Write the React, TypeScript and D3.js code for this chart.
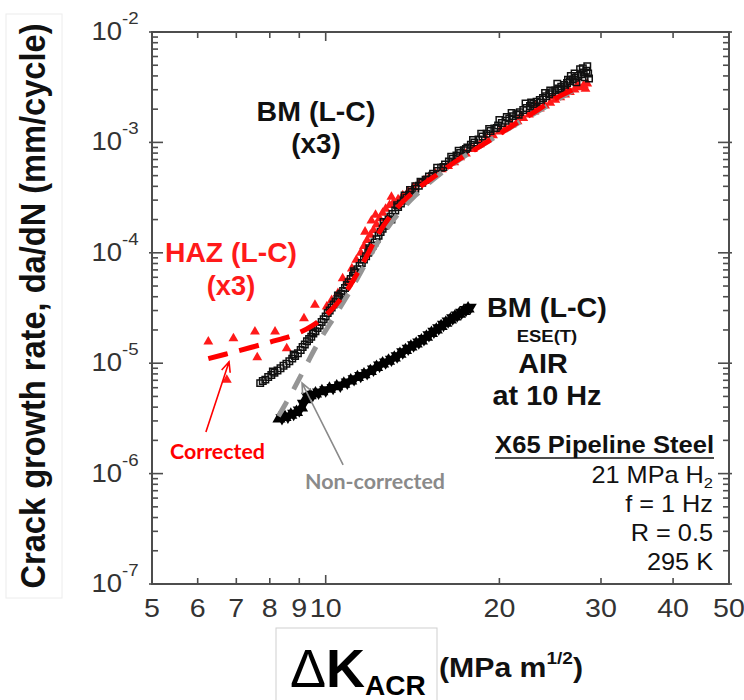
import React from 'react';
import * as d3 from 'd3';

const W = 744;
const H = 700;
const X0 = 152, X1 = 729, Y0 = 32, Y1 = 584;

const xTicks = [5, 6, 7, 8, 9, 10, 20, 30, 40, 50];
const xTickLabels = ['5', '6', '7', '8', '9', '10', '20', '30', '40', '50'];
const yDecades = [-7, -6, -5, -4, -3, -2];

// BM (L-C) in 21 MPa H2 (x3) – open black squares  [ΔK, da/dN]
const bmH2: [number, number][] = [
  [7.70, 6.6e-6], [7.78, 6.9e-6], [7.86, 7.1e-6], [7.95, 7.5e-6], [8.05, 7.8e-6], [8.15, 8.2e-6],
  [8.25, 8.6e-6], [8.35, 9.0e-6], [8.45, 9.5e-6], [8.55, 9.9e-6], [8.65, 1.04e-5], [8.75, 1.10e-5],
  [8.85, 1.16e-5], [8.95, 1.23e-5], [9.05, 1.32e-5], [9.12, 1.40e-5], [9.20, 1.48e-5], [9.28, 1.58e-5],
  [9.36, 1.66e-5], [9.44, 1.74e-5], [9.52, 1.86e-5], [9.60, 1.95e-5], [9.68, 2.08e-5], [9.76, 2.20e-5],
  [9.84, 2.36e-5], [9.92, 2.50e-5], [10.0, 2.65e-5], [10.08, 2.85e-5], [10.16, 3.0e-5], [10.24, 3.2e-5],
  [10.32, 3.4e-5], [10.40, 3.6e-5], [10.48, 3.8e-5], [10.56, 4.0e-5], [10.64, 4.25e-5], [10.72, 4.5e-5],
  [10.80, 4.8e-5], [10.88, 5.1e-5], [10.96, 5.4e-5], [11.05, 5.8e-5], [11.15, 6.2e-5], [11.25, 6.6e-5],
  [11.35, 7.1e-5], [11.45, 7.6e-5], [11.55, 8.1e-5], [11.65, 8.7e-5], [11.75, 9.3e-5], [11.85, 1.0e-4],
  [11.95, 1.07e-4], [12.05, 1.15e-4], [12.15, 1.24e-4], [12.25, 1.33e-4], [12.35, 1.43e-4], [12.45, 1.54e-4],
  [12.55, 1.65e-4], [12.65, 1.76e-4], [12.75, 1.88e-4], [12.85, 2.0e-4], [12.95, 2.12e-4], [13.05, 2.25e-4],
  [13.2, 2.42e-4], [13.35, 2.6e-4], [13.5, 2.8e-4], [13.65, 2.98e-4], [13.8, 3.15e-4], [13.95, 3.35e-4],
  [14.1, 3.55e-4], [14.3, 3.8e-4], [14.5, 4.05e-4], [14.7, 4.3e-4], [14.9, 4.6e-4], [15.1, 4.9e-4],
  [15.35, 5.2e-4], [15.6, 5.5e-4], [15.85, 5.9e-4], [16.1, 6.3e-4], [16.35, 6.7e-4], [16.6, 7.1e-4],
  [16.85, 7.6e-4], [17.1, 8.0e-4], [17.35, 8.5e-4], [17.6, 9.0e-4], [17.85, 9.5e-4], [18.1, 1.0e-3],
  [18.4, 1.06e-3], [18.7, 1.13e-3], [19.0, 1.2e-3], [19.3, 1.27e-3], [19.6, 1.34e-3], [19.9, 1.42e-3],
  [20.2, 1.5e-3], [20.5, 1.57e-3], [20.8, 1.65e-3], [21.1, 1.73e-3], [21.4, 1.8e-3], [21.7, 1.88e-3],
  [22.0, 1.97e-3], [22.3, 2.05e-3], [22.6, 2.14e-3], [22.9, 2.23e-3], [23.2, 2.33e-3], [23.5, 2.42e-3],
  [23.8, 2.52e-3], [24.1, 2.62e-3], [24.4, 2.73e-3], [24.7, 2.85e-3], [25.0, 2.96e-3], [25.3, 3.08e-3],
  [25.6, 3.2e-3], [25.9, 3.32e-3], [26.2, 3.45e-3], [26.5, 3.58e-3], [26.8, 3.72e-3], [27.1, 3.86e-3],
  [27.4, 4.0e-3], [27.7, 4.15e-3], [28.0, 4.3e-3], [28.3, 4.45e-3],
  [20.0, 1.6e-3], [21.0, 1.85e-3], [22.2, 2.25e-3], [23.0, 2.1e-3], [24.0, 2.8e-3], [25.2, 3.4e-3],
  [26.0, 3.1e-3], [26.6, 4.0e-3], [27.2, 3.5e-3], [27.6, 4.6e-3], [28.1, 3.9e-3], [28.4, 4.9e-3],
  [28.6, 3.8e-3], [16.0, 6.0e-4], [17.0, 8.4e-4], [18.0, 1.05e-3], [19.2, 1.32e-3], [15.0, 4.6e-4],
  [14.0, 3.7e-4], [12.6, 1.9e-4], [13.0, 2.0e-4], [11.9, 1.1e-4], [10.5, 4.1e-5], [9.5, 1.9e-5],
  [8.8, 1.2e-5], [8.1, 8.4e-6], [11.2, 6.8e-5], [13.7, 3.3e-4], [14.6, 4.4e-4], [15.6, 5.9e-4],
  [18.6, 1.2e-3], [19.8, 1.35e-3], [20.6, 1.7e-3], [21.6, 1.78e-3], [22.7, 2.3e-3], [23.6, 2.3e-3],
  [24.5, 2.95e-3], [25.5, 3.0e-3], [26.3, 3.7e-3], [27.0, 4.2e-3], [27.9, 4.7e-3], [28.5, 4.2e-3],
  [17.5, 8.7e-4], [16.5, 7.4e-4], [15.3, 5.0e-4], [14.3, 4.0e-4], [13.3, 2.7e-4],
];

// HAZ (L-C) in 21 MPa H2 (x3) – red triangles
const hazH2: [number, number][] = [
  [6.26, 1.57e-5], [6.74, 7.05e-6], [6.92, 1.68e-5], [7.54, 1.93e-5], [7.61, 1.13e-5], [8.17, 1.93e-5],
  [8.56, 1.36e-5], [9.17, 2.55e-5], [9.58, 3.37e-5], [10.04, 3.25e-5], [10.24, 3.73e-5], [10.5, 4.3e-5],
  [10.7, 5.87e-5], [10.9, 5.5e-5], [11.1, 7.2e-5], [11.3, 8.6e-5], [11.5, 1.0e-4], [11.65, 1.15e-4],
  [11.8, 1.3e-4], [11.95, 1.45e-4], [12.1, 1.6e-4], [12.25, 1.8e-4], [12.4, 2.05e-4], [12.55, 2.3e-4],
  [12.7, 2.5e-4], [12.9, 2.7e-4], [13.1, 2.85e-4], [13.35, 3.05e-4], [13.6, 3.3e-4], [13.9, 3.6e-4],
  [14.2, 3.9e-4], [14.5, 4.2e-4], [14.8, 4.5e-4], [15.1, 4.8e-4], [15.5, 5.2e-4], [15.9, 5.7e-4],
  [16.3, 6.1e-4], [16.7, 6.6e-4], [17.1, 7.3e-4], [17.5, 7.9e-4], [18.0, 8.7e-4], [18.5, 9.6e-4],
  [19.0, 1.07e-3], [19.5, 1.16e-3], [20.0, 1.25e-3], [20.5, 1.35e-3], [21.0, 1.45e-3], [21.5, 1.55e-3],
  [22.0, 1.66e-3], [22.5, 1.78e-3], [23.0, 1.9e-3], [23.5, 2.02e-3], [24.0, 2.15e-3], [24.5, 2.28e-3],
  [25.0, 2.42e-3], [25.5, 2.56e-3], [26.0, 2.7e-3], [26.5, 2.85e-3], [27.0, 3.0e-3], [27.5, 3.15e-3],
  [28.0, 3.3e-3], [28.4, 3.4e-3],
  [12.2, 2.2e-4], [12.0, 1.95e-4], [11.7, 1.55e-4], [13.0, 3.2e-4], [24.8, 2.6e-3], [26.3, 3.0e-3],
  [27.3, 3.3e-3], [28.2, 3.05e-3], [23.2, 2.2e-3], [21.8, 1.75e-3],
];

// BM (L-C) ESE(T) in air at 10 Hz – filled black markers
const bmAir: [number, number][] = [
  [8.3, 3.15e-6], [8.4, 3.2e-6], [8.5, 3.25e-6], [8.6, 3.3e-6], [8.7, 3.4e-6], [8.8, 3.5e-6],
  [8.9, 3.6e-6], [9.0, 3.75e-6], [9.08, 3.95e-6], [9.15, 4.3e-6], [9.22, 4.7e-6], [9.3, 5.0e-6],
  [9.4, 5.1e-6], [9.5, 5.2e-6], [9.6, 5.3e-6], [9.72, 5.45e-6], [9.85, 5.55e-6], [10.0, 5.7e-6],
  [10.15, 5.85e-6], [10.3, 6.0e-6], [10.45, 6.15e-6], [10.6, 6.3e-6], [10.75, 6.5e-6], [10.9, 6.7e-6],
  [11.05, 6.95e-6], [11.2, 7.2e-6], [11.35, 7.45e-6], [11.5, 7.7e-6], [11.65, 7.9e-6], [11.8, 8.15e-6],
  [11.95, 8.45e-6], [12.1, 8.8e-6], [12.25, 9.2e-6], [12.4, 9.55e-6], [12.55, 9.9e-6], [12.7, 1.02e-5],
  [12.85, 1.05e-5], [13.0, 1.08e-5], [13.15, 1.12e-5], [13.3, 1.16e-5], [13.45, 1.21e-5], [13.6, 1.26e-5],
  [13.75, 1.31e-5], [13.9, 1.36e-5], [14.05, 1.41e-5], [14.2, 1.46e-5], [14.35, 1.5e-5], [14.5, 1.55e-5],
  [14.65, 1.6e-5], [14.8, 1.66e-5], [14.95, 1.73e-5], [15.1, 1.8e-5], [15.25, 1.87e-5], [15.4, 1.94e-5],
  [15.55, 2.01e-5], [15.7, 2.08e-5], [15.85, 2.16e-5], [16.0, 2.24e-5], [16.15, 2.32e-5], [16.3, 2.4e-5],
  [16.45, 2.48e-5], [16.6, 2.56e-5], [16.75, 2.64e-5], [16.9, 2.72e-5], [17.05, 2.8e-5], [17.2, 2.88e-5],
  [17.35, 2.96e-5], [17.5, 3.05e-5], [17.65, 3.12e-5], [17.8, 3.2e-5],
];

// Fit lines
const fitCorrected: [number, number][] = [
  [6.26, 1.1e-5], [7.0, 1.28e-5], [8.0, 1.55e-5], [8.8, 1.8e-5], [9.5, 2.2e-5], [10.2, 3.0e-5],
  [10.8, 4.3e-5], [11.3, 6.3e-5], [11.8, 9.5e-5], [12.3, 1.45e-4], [12.9, 2.1e-4], [13.6, 2.9e-4],
  [14.5, 3.9e-4], [15.6, 5.1e-4], [17.0, 7.0e-4], [19.0, 1.0e-3], [21.0, 1.4e-3], [23.0, 1.88e-3],
  [25.0, 2.5e-3], [27.0, 3.05e-3],
];
const fitNonCorrected: [number, number][] = [
  [8.28, 3.3e-6], [8.7, 5.2e-6], [9.1, 8.1e-6], [9.7, 1.52e-5], [10.45, 2.85e-5], [11.2, 5.2e-5],
  [11.9, 9.2e-5], [12.6, 1.5e-4], [13.4, 2.3e-4], [14.3, 3.3e-4], [15.5, 4.8e-4], [17.0, 6.9e-4],
  [19.0, 1.0e-3], [21.0, 1.38e-3], [23.5, 1.95e-3], [26.8, 2.95e-3],
];

// Annotation arrows (tail, tip) in data coordinates
const correctedArrow: [number, number][] = [[6.2, 2.38e-6], [6.8, 1.03e-5]];
const nonCorrectedArrow: [number, number][] = [[10.72, 1.2e-6], [9.1, 6.6e-6]];

const ARIAL = "'Liberation Sans', Arial, Helvetica, sans-serif";
const CAL = "Lato, 'Open Sans', sans-serif";
const SX = 1.1;

function arrow(x1: number, y1: number, x2: number, y2: number, len = 11, ang = 0.42) {
  const a = Math.atan2(y2 - y1, x2 - x1);
  const h1x = x2 - len * Math.cos(a - ang), h1y = y2 - len * Math.sin(a - ang);
  const h2x = x2 - len * Math.cos(a + ang), h2y = y2 - len * Math.sin(a + ang);
  return `M${x1},${y1}L${x2},${y2}M${h1x},${h1y}L${x2},${y2}L${h2x},${h2y}`;
}

function ST(props: any) {
  const { x, y, sx = SX, anchor = 'middle', children, ...rest } = props;
  return (
    <g transform={`translate(${x},${y}) scale(${sx},1)`}>
      <text x={0} y={0} textAnchor={anchor} {...rest}>{children}</text>
    </g>
  );
}

export default function App() {
  const x = d3.scaleLog().domain([5, 50]).range([X0, X1]);
  const y = d3.scaleLog().domain([1e-7, 1e-2]).range([Y1, Y0]);
  const line = d3.line<[number, number]>()
    .x(d => x(d[0]))
    .y(d => y(d[1]))
    .curve(d3.curveCatmullRom.alpha(0.5));
  const sq = d3.symbol().type(d3.symbolSquare).size(42)() as string;
  const tri = d3.symbol().type(d3.symbolTriangle).size(42)() as string;
  const triAir = d3.symbol().type(d3.symbolTriangle).size(75)() as string;

  const yTicks: { v: number; major: boolean }[] = [];
  for (const d of yDecades) {
    for (let m = 1; m <= 9; m++) {
      if (d === -2 && m > 1) break;
      yTicks.push({ v: m * Math.pow(10, d), major: m === 1 });
    }
  }

  const axisColor = '#4d4d4d';
  const ca = correctedArrow.map(p => [x(p[0]), y(p[1])]);
  const na = nonCorrectedArrow.map(p => [x(p[0]), y(p[1])]);

  return (
    <svg width={W} height={H} viewBox={`0 0 ${W} ${H}`}
      style={{ position: 'absolute', left: 0, top: 0, background: '#fff' }}
      fontFamily={ARIAL}>
      <rect x={0} y={0} width={W} height={H} fill="#fff" />

      {/* faint box around y title */}
      <rect x={6} y={14} width={56} height={584} fill="none" stroke="#ececec" strokeWidth={1} />

      {/* data: HAZ triangles */}
      <g fill="#ff1a1a">
        {hazH2.map((d, i) => (
          <path key={i} d={tri} transform={`translate(${x(d[0])},${y(d[1])})`} />
        ))}
      </g>
      {/* data: BM H2 open squares */}
      <g fill="none" stroke="#111" strokeWidth={1.5}>
        {bmH2.map((d, i) => (
          <path key={i} d={sq} transform={`translate(${x(d[0])},${y(d[1])})`} />
        ))}
      </g>
      {/* data: BM air filled */}
      <g fill="#000">
        {bmAir.map((d, i) => (
          <path key={i} d={triAir} transform={`translate(${x(d[0])},${y(d[1])}) rotate(${i % 2 ? 180 : 0})`} />
        ))}
      </g>

      {/* fit lines */}
      <path d={line(fitNonCorrected) as string} fill="none" stroke="#959595" strokeWidth={5} strokeDasharray="17 14" />
      <path d={line(fitCorrected) as string} fill="none" stroke="#ff0000" strokeWidth={5} strokeDasharray="20 12" />

      {/* frame */}
      <rect x={X0} y={Y0} width={X1 - X0} height={Y1 - Y0} fill="none" stroke={axisColor} strokeWidth={2} />

      {/* ticks */}
      <g stroke={axisColor} strokeWidth={1.6}>
        {yTicks.map((t, i) => {
          const yy = y(t.v);
          const inL = t.major ? 11 : 6;
          return (
            <g key={i}>
              <line x1={X0 - (t.major ? 3 : 0)} x2={X0 + inL} y1={yy} y2={yy} />
              <line x1={X1 + (t.major ? 3 : 0)} x2={X1 - inL} y1={yy} y2={yy} />
            </g>
          );
        })}
        {xTicks.map((t, i) => {
          const xx = x(t);
          const len = t === 10 ? 9 : 6;
          return (
            <g key={'x' + i}>
              <line x1={xx} x2={xx} y1={Y1} y2={Y1 - len} />
              <line x1={xx} x2={xx} y1={Y0} y2={Y0 + len} />
            </g>
          );
        })}
      </g>

      {/* x tick labels */}
      <g fill="#333" fontSize={26}>
        {xTicks.map((t, i) => (
          <ST key={i} x={x(t)} y={617}>{xTickLabels[i]}</ST>
        ))}
      </g>
      {/* y tick labels */}
      <g fill="#333">
        {yDecades.map((d, i) => (
          <g key={i} transform={`translate(122,${y(Math.pow(10, d))}) scale(${SX},1)`}>
            <text x={0} y={8} textAnchor="end" fontSize={25}>10</text>
            <text x={0} y={-8} fontSize={17}>{`-${-d}`}</text>
          </g>
        ))}
      </g>

      {/* y title */}
      <text transform={`translate(45,306) scale(${SX},1) rotate(-90)`} textAnchor="middle"
        fontSize={32} fontWeight="bold" fill="#111" textLength={565} lengthAdjust="spacingAndGlyphs">
        Crack growth rate, da/dN (mm/cycle)
      </text>

      {/* x title */}
      <rect x={276} y={628} width={161} height={74} fill="#fff" stroke="#cfcfcf" strokeWidth={1} />
      <text x={290} y={687} fontSize={54} fill="#000">
        <tspan>Δ</tspan>
        <tspan fontWeight="bold">K</tspan>
        <tspan fontWeight="bold" fontSize={28} dy={8}>ACR</tspan>
      </text>
      <g transform={`translate(439,677) scale(1.12,1)`}>
        <text x={0} y={0} fontSize={27} fontWeight="bold" fill="#111">
          <tspan>(MPa m</tspan>
          <tspan fontSize={17} dy={-13}>1/2</tspan>
          <tspan dy={13}>)</tspan>
        </text>
      </g>

      {/* annotations */}
      <g fontWeight="bold" fill="#111">
        <ST x={316} y={121} fontSize={27} textLength={108} lengthAdjust="spacingAndGlyphs">BM (L-C)</ST>
        <ST x={316} y={153} fontSize={27} textLength={45} lengthAdjust="spacingAndGlyphs">(x3)</ST>
      </g>
      <g fontWeight="bold" fill="#ff1a1a">
        <ST x={231} y={262} fontSize={28} textLength={120} lengthAdjust="spacingAndGlyphs">HAZ (L-C)</ST>
        <ST x={231} y={295} fontSize={28} textLength={44} lengthAdjust="spacingAndGlyphs">(x3)</ST>
      </g>
      <g fontWeight="bold" fill="#111">
        <ST x={547} y={317} fontSize={27} textLength={109} lengthAdjust="spacingAndGlyphs">BM (L-C)</ST>
        <ST x={547} y={342} fontSize={17} textLength={55} lengthAdjust="spacingAndGlyphs">ESE(T)</ST>
        <ST x={543} y={373} fontSize={27} textLength={45} lengthAdjust="spacingAndGlyphs">AIR</ST>
        <ST x={547} y={405} fontSize={27} textLength={99} lengthAdjust="spacingAndGlyphs">at 10 Hz</ST>
      </g>

      <g fill="#111">
        <ST x={714} y={453} anchor="end" fontSize={24} fontWeight="bold" textLength={199} lengthAdjust="spacingAndGlyphs">X65 Pipeline Steel</ST>
        <line x1={495} x2={714} y1={458} y2={458} stroke="#111" strokeWidth={1.6} />
        <g transform={`translate(713,483) scale(${SX},1)`}>
          <text x={0} y={0} textAnchor="end" fontSize={23}>
            <tspan>21 MPa H</tspan>
            <tspan fontSize={15} dy={5}>2</tspan>
          </text>
        </g>
        <ST x={713} y={512} anchor="end" fontSize={23}>f = 1 Hz</ST>
        <ST x={713} y={541} anchor="end" fontSize={23}>R = 0.5</ST>
        <ST x={713} y={570} anchor="end" fontSize={23}>295 K</ST>
      </g>

      {/* corrected / non-corrected labels and arrows */}
      <path d={arrow(ca[0][0], ca[0][1], ca[1][0], ca[1][1])} fill="none" stroke="#ff0000" strokeWidth={1.6} />
      <text x={170} y={459} fontFamily={CAL} fontWeight="bold" fontSize={21} fill="#ff0000"
        textLength={95} lengthAdjust="spacingAndGlyphs">Corrected</text>
      <path d={arrow(na[0][0], na[0][1], na[1][0], na[1][1])} fill="none" stroke="#8a8a8a" strokeWidth={1.6} />
      <text x={305} y={489} fontFamily={CAL} fontWeight="bold" fontSize={21} fill="#8a8a8a"
        textLength={140} lengthAdjust="spacingAndGlyphs">Non-corrected</text>
    </svg>
  );
}
